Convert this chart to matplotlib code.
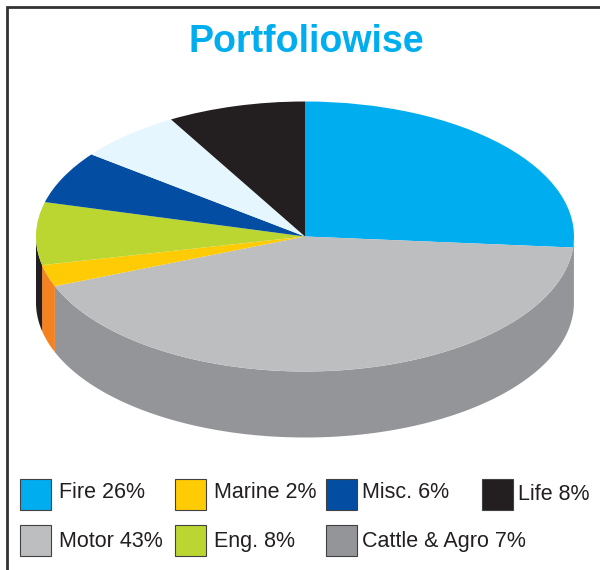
import numpy as np
import matplotlib
matplotlib.use('Agg')
import matplotlib.pyplot as plt
from matplotlib.patches import Rectangle

plt.rcParams['font.family'] = ['Liberation Sans', 'DejaVu Sans']

# slices in drawing order, clockwise from 12 o'clock
# shares read off the drawn angles, they differ a little from the printed legend
slices = ['Fire', 'Motor', 'Marine', 'Eng.', 'Misc.', 'Cattle & Agro', 'Life']
shares = [26.3, 42.7, 2.6, 7.5, 6.3, 6.3, 8.3]
top_colors = ['#00AEEF', '#BCBEC0', '#FFCB05', '#BBD630', '#034EA2', '#E6F6FE', '#231F20']
side_colors = ['#939598', '#939598', '#F58220', '#231F20', '#034EA2', '#E6F6FE', '#231F20']

# legend
legend_labels = [['Fire 26%', 'Marine 2%', 'Misc. 6%', 'Life 8%'],
                 ['Motor 43%', 'Eng. 8%', 'Cattle & Agro 7%']]
legend_colors = [['#00AEEF', '#FFCB05', '#034EA2', '#231F20'],
                 ['#BCBEC0', '#BBD630', '#939598']]

W, H = 600, 570
cx, cy, rx, ry = 305, 236.5, 269, 135
depth = 66 / ry

fig = plt.figure(figsize=(W / 100, H / 100), dpi=100)
bg = fig.add_axes([0, 0, 1, 1])
bg.set_xlim(0, W)
bg.set_ylim(H, 0)
bg.axis('off')

# frame, only top and left show up
bg.plot([7, 7, W], [H, 7, 7], color='#333132', lw=2, solid_joinstyle='miter')

bg.text(306, 52, 'Portfoliowise', color='#00AEEF', fontsize=27, fontweight='bold',
        ha='center', va='baseline')

# pie axes is squashed so the unit circle lands on the ellipse
ax = fig.add_axes([(cx - rx) / W, 1 - (cy + ry) / H, 2 * rx / W, 2 * ry / H])
ax.pie(shares, colors=top_colors, startangle=90, counterclock=False, radius=1,
       wedgeprops={'linewidth': 0})
ax.set_aspect('auto')
ax.set_xlim(-1, 1)
ax.set_ylim(-1, 1)
ax.axis('off')

# side wall, only the front half (90..270 deg clockwise from top) is visible
edges = np.cumsum([0] + shares) * 3.6
for i in range(len(shares)):
    a, b = max(edges[i], 90), min(edges[i + 1], 270)
    if a >= b:
        continue
    t = np.radians(np.linspace(a, b, 80))
    x = np.sin(t)
    y = np.cos(t)
    ax.fill(np.r_[x, x[::-1]], np.r_[y, y[::-1] - depth], color=side_colors[i],
            lw=0, zorder=0.5, clip_on=False)

# legend squares and text
sq_x = [[20, 175, 326, 482], [20, 175, 326]]
txt_x = [[59, 214, 362, 518], [59, 214, 362]]
sq_y = [479, 525]
txt_y = [[498, 498, 498, 500], [547, 547, 547]]
for r in range(2):
    for c in range(len(legend_labels[r])):
        bg.add_patch(Rectangle((sq_x[r][c], sq_y[r]), 31, 31, facecolor=legend_colors[r][c],
                               edgecolor='#414042', lw=0.8))
        bg.text(txt_x[r][c], txt_y[r][c], legend_labels[r][c], color='#231F20', fontsize=15.5,
                ha='left', va='baseline')

fig.savefig('out.png', dpi=100)
